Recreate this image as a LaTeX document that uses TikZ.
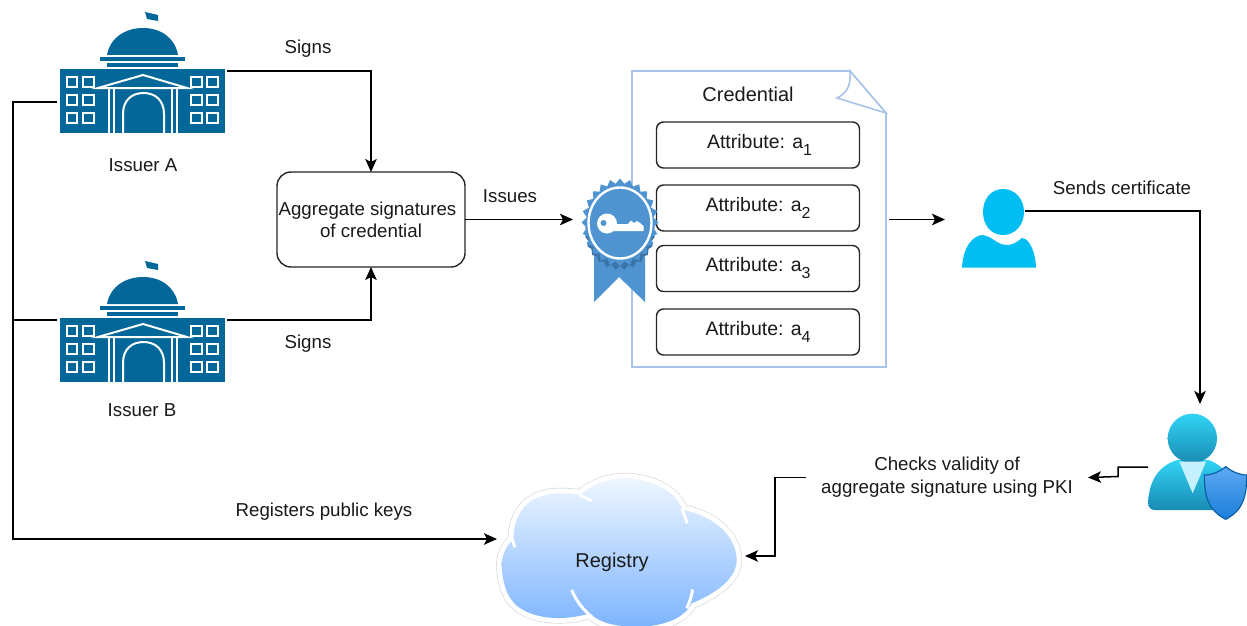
\documentclass[tikz,border=0pt]{standalone}
\usepackage{fontspec}
\setmainfont{Liberation Sans}
\usetikzlibrary{arrows.meta,calc}
\definecolor{bldg}{HTML}{036899}
\definecolor{docline}{HTML}{A9C4EB}
\definecolor{badge}{HTML}{4F94D0}
\definecolor{badgedark}{HTML}{3A74A8}
\definecolor{holder}{HTML}{00BEF2}
\definecolor{vertop}{HTML}{32D4F5}
\definecolor{verbot}{HTML}{198AB3}
\definecolor{collar}{HTML}{C3F1FF}
\definecolor{shtop}{HTML}{5EA8F2}
\definecolor{shbot}{HTML}{1B7FD9}
\definecolor{shedge}{HTML}{0B5FA5}
\definecolor{cltop}{HTML}{EEF6FF}
\definecolor{clbot}{HTML}{7DB4FF}
\definecolor{txt}{HTML}{1A1A1A}
\newcommand{\sdig}[1]{\raisebox{-0.36em}{\fontsize{16}{16}\selectfont #1}}
\tikzset{
  x=1pt,y=-1pt,
  every node/.style={font=\fontsize{18.7}{22}\selectfont,text=txt,inner sep=0pt,outer sep=0pt,align=center},
  conn/.style={line width=1.5pt,draw=black},
  arr/.style={conn,-{Stealth[length=13pt,width=11.5pt,inset=3pt]}},
  roundbox/.style={draw=black!85,line width=1.4pt,rounded corners=7pt,minimum width=203pt,minimum height=46pt,fill=white,font=\fontsize{19.5}{22}\selectfont},
  ghost/.style={draw=none,fill=none},
  wline/.style={draw=white,line width=2pt},
  building/.pic={
    \fill[bldg] (145,12) -- (158,15) -- (158,21) -- (147,19) -- cycle;
    \fill[bldg] (107,55) .. controls (110,38) and (125,28) .. (143,28) .. controls (161,28) and (175,38) .. (178,55) -- cycle;
    \fill[bldg] (100,57) rectangle (185,61);
    \fill[bldg] (107,63) rectangle (178,67);
    \fill[bldg] (60,69) rectangle (225,133);
    \foreach \wx/\ww in {67/10,83/11,191/11,207/11}{
      \foreach \wy in {77,95,113}{
        \draw[wline] (\wx,\wy) rectangle ++(\ww,10);
      }
    }
    \draw[wline] (98,88) -- (143,75) -- (187,88) -- cycle;
    \draw[wline] (109,88) -- (109,133) (114,88) -- (114,133) (172,88) -- (172,133) (177,88) -- (177,133);
    \draw[wline] (123,133) -- (123,114) .. controls (123,100) and (132,93) .. (143.5,93) .. controls (155,93) and (164,100) .. (164,114) -- (164,133);
  }
}
\begin{document}
\begin{tikzpicture}
\useasboundingbox (0,0) rectangle (1247,626);
\fill[white] (0,0) rectangle (1247,626);

% issuers
\pic at (0,0) {building};
\pic at (0,249) {building};
\node[ghost,minimum width=170pt,minimum height=62pt] (issuerA) at (142,102) {};
\node[ghost,minimum width=170pt,minimum height=62pt] (issuerB) at (142,351) {};
\node (labA) at (143,165.5) {Issuer A};
\node (labB) at (142,410.5) {Issuer B};

% aggregate box
\node[roundbox,font=\fontsize{18.7}{22}\selectfont,rounded corners=14pt,minimum width=188pt,minimum height=95pt] (agg) at (371,219.5) {Aggregate signatures\hspace*{7pt}\\of credential};

% credential document
\node[ghost,minimum width=257pt,minimum height=297pt] (doc) at (760.5,219.5) {};
\draw[docline,line width=1.6pt,fill=white] (632,71) -- (850,71) -- (886,113) -- (886,367) -- (632,367) -- cycle;
\draw[docline,line width=1.6pt,fill=white] (850,71) .. controls (851,86) and (847,93) .. (837,98) -- (886,113) -- cycle;
\node[font=\fontsize{20}{22}\selectfont] (credlabel) at (748,94) {Credential};
\node[roundbox] (attr1) at (758,145) {\hspace*{3pt}\raisebox{-1pt}{Attribute: a\sdig{1}}};
\node[roundbox] (attr2) at (758,208) {\raisebox{-1pt}{Attribute: a\sdig{2}}};
\node[roundbox] (attr3) at (758,268.5) {\raisebox{-1pt}{Attribute: a\sdig{3}}};
\node[roundbox] (attr4) at (758,332) {\raisebox{-1pt}{Attribute: a\sdig{4}}};

% badge
\fill[badge] (594,255) -- (645,255) -- (645,302) -- (619,277) -- (594,302) -- cycle;
\fill[badgedark] plot[domain=0:48,samples=49] ({620+(33+2*mod(round(\x),2))*cos(\x*7.5)},{232+(34+4*mod(round(\x),2))*sin(\x*7.5)}) -- cycle;
\fill[badge] plot[domain=0:48,samples=49] ({620+(38.5-5*mod(round(\x),2))*cos(\x*7.5)},{222.5+(44-5*mod(round(\x),2))*sin(\x*7.5)}) -- cycle;
\draw[white,line width=2.4pt] (620,223) ellipse [x radius=31.5,y radius=35.5];
\fill[white] (607,223.5) circle [radius=10];
\fill[white] (612,224) -- (628,224) -- (631,220.5) -- (634,223) -- (637,221) -- (640,223) -- (643.5,226) -- (643.5,231) -- (612,231) -- cycle;
\fill[badge] (603.5,223) circle [radius=3];
\node[ghost,minimum width=76pt,minimum height=84pt] (badgenode) at (611,219) {};

% holder
\fill[holder] (1003,189) .. controls (1015,189) and (1024,199) .. (1024,212) .. controls (1024,225) and (1015,235) .. (1003,235) .. controls (991,235) and (983,225) .. (983,212) .. controls (983,199) and (991,189) .. (1003,189) -- cycle;
\fill[holder] (962,267.5) .. controls (963,247) and (973,235) .. (983,235) .. controls (993,237) and (996,244) .. (1006,245) .. controls (1015,245) and (1019,240) .. (1022,238) .. controls (1030,238) and (1036,255) .. (1036,267.5) -- cycle;
\node[ghost,minimum width=82pt,minimum height=44pt] (holderHead) at (984,211) {};
\coordinate (holderIn) at (945,219);

% verifier
\begin{scope}[shift={(1080,400)},scale=1/3]
  \shade[top color=vertop,bottom color=verbot] (205,310) .. controls (205,240) and (240,195) .. (292,180) -- (385,180) .. controls (430,195) and (470,240) .. (470,310) .. controls (470,325) and (460,330) .. (450,330) -- (225,330) .. controls (212,330) and (205,322) .. (205,310) -- cycle;
  \shade[top color=vertop,bottom color=verbot] (337,115) circle [radius=74];
  \fill[collar] (298,185) -- (378,185) -- (338,280) -- cycle;
  \shade[top color=shtop,bottom color=shbot,draw=shedge,line width=1.2pt] (437,200) .. controls (420,215) and (395,225) .. (373,225) .. controls (373,290) and (385,330) .. (437,358) .. controls (490,330) and (500,290) .. (500,225) .. controls (480,225) and (455,215) .. (437,200) -- cycle;
\end{scope}
\node[ghost,minimum width=104pt,minimum height=126pt] (verifier) at (1200,467) {};

% registry cloud
\begin{scope}[shift={(480,460)},scale=1/3]
  \def\cloudpath{(65,310) .. controls (68,275) and (85,250) .. (100,240) .. controls (100,170) and (135,100) .. (240,100) .. controls (265,100) and (285,102) .. (300,105) .. controls (340,70) and (390,55) .. (440,55) .. controls (530,60) and (590,100) .. (608,150) .. controls (700,165) and (770,230) .. (770,300) .. controls (770,350) and (720,395) .. (635,430) .. controls (610,480) and (540,500) .. (470,500) .. controls (410,500) and (360,490) .. (330,460) .. controls (230,490) and (130,470) .. (95,420) .. controls (75,395) and (65,350) .. (65,310) -- cycle}
  \draw[black!20,line width=11pt,line join=round] \cloudpath;
  \draw[white,line width=10pt,line join=round] \cloudpath;
  \shade[top color=cltop,bottom color=clbot] \cloudpath;
  \draw[white,line width=3pt] (105,262) -- (92,225);
  \draw[white,line width=3pt] (298,105) -- (335,122);
  \draw[white,line width=3pt] (605,145) -- (622,190);
  \draw[white,line width=3pt] (275,390) .. controls (290,425) and (310,450) .. (335,470);
  \draw[white,line width=3pt] (638,388) .. controls (635,405) and (630,425) .. (620,445);
\end{scope}
\node[ghost,minimum width=248pt,minimum height=156pt] (registry) at (621,556) {};
\node[font=\fontsize{20}{22}\selectfont] (reglabel) at (612,562) {Registry};
\coordinate (regW) at (497,539);

% labels
\node (signsA) at (308,49) {Signs};
\node (signsB) at (308,344) {Signs};
\node (issues) at (510,196) {Issues};
\node (sends) at (1122,188) {Sends certificate};
\node (regkeys) at (324,512) {Registers public keys};
\node[minimum width=282pt,font=\fontsize{18.7}{23}\selectfont] (checks) at (947,477.5) {Checks validity of\\aggregate signature using PKI};

% connectors
\draw[arr] (issuerA.north east) -| (agg.north);
\draw[arr] (issuerB.north east) -| (agg.south);
\draw[arr] (agg.east) -- (agg.east -| badgenode.west);
\draw[arr] (doc.east) -- (doc.east -| holderIn);
\draw[arr] (holderHead.east) -| (verifier.north);
\draw[conn] (issuerB.north west) -- ++(-44,0);
\draw[arr] (issuerA.west) -- ++(-44,0) |- (regW);
\draw[arr] (verifier.west) -- ++(-30,0) -- ++(0,9.5) -- (checks.east);
\draw[arr] (checks.west) -- ++(-31,0) |- (registry.east);
\end{tikzpicture}
\end{document}
